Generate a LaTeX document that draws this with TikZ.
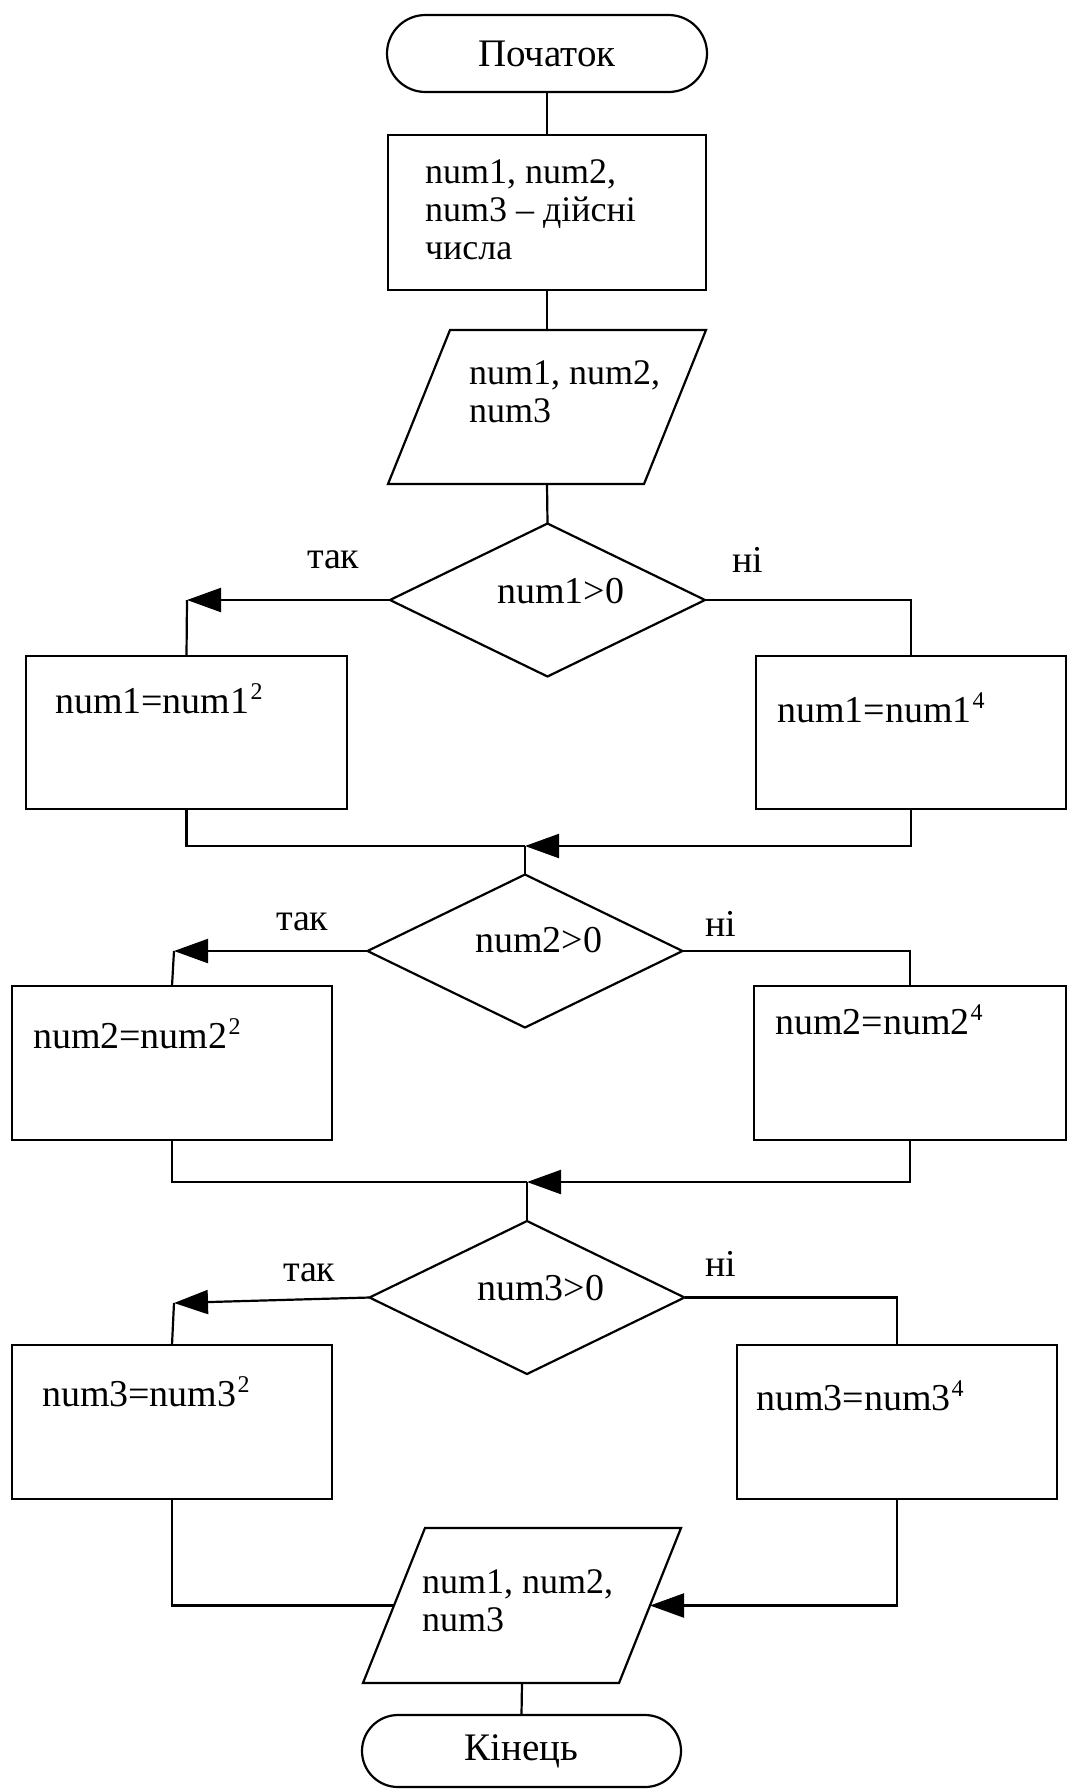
\documentclass[tikz,border=0pt]{standalone}
\usepackage{fontspec}
\setmainfont{Liberation Serif}
\usetikzlibrary{shapes.geometric,shapes.misc,arrows.meta}
\newcommand{\mysup}[1]{\kern1pt\raisebox{14pt}{\fontsize{24}{24}\selectfont #1}}
\begin{document}
\begin{tikzpicture}[x=1pt,y=-1pt,
  line width=2.2pt,
  every node/.style={inner sep=0pt, outer sep=0pt},
  box/.style={draw, rectangle},
  term/.style={draw, rounded rectangle, font=\fontsize{39}{44}\selectfont},
  dec/.style={draw, diamond, minimum width=315pt, minimum height=153pt},
  plain/.style={minimum width=256pt, minimum height=154pt},
  txt/.style={font=\fontsize{38}{40}\selectfont, anchor=base west},
  mtxt/.style={font=\fontsize{36}{38}\selectfont, align=left, anchor=north west},
  arr/.style={-{Triangle[length=34pt,width=24pt]}}
]
\useasboundingbox (0,0) rectangle (1068,1789);

% start
\node[term, minimum width=320pt, minimum height=77pt] (start) at (547,53.5) {Початок};

% declaration
\node[box, minimum width=318pt, minimum height=155pt] (r1) at (547,212.5) {};
\node[mtxt] (r1t) at (425,160) {num1, num2,\\num3 – дійсні\\числа};

% input
\node[plain] (p1) at (547,407) {};
\draw ([xshift=31pt]p1.north west) -- ([xshift=31pt]p1.north east) -- ([xshift=-31pt]p1.south east) -- ([xshift=-31pt]p1.south west) -- cycle;
\node[mtxt] (p1t) at (469,361) {num1, num2,\\num3};

\draw (start.south) -- (r1.north);
\draw (r1.south) -- (p1.north);

% decision 1
\node[dec] (d1) at (547.5,600) {};
\node[txt] (d1t) at (497,603) {num1>0};
\node[txt] (y1) at (307,568) {так};
\node[txt] (n1) at (732,572) {ні};
\draw (p1.south) -- (d1.north);

\node[box, minimum width=321pt, minimum height=153pt] (r1L) at (186.5,732.5) {};
\node[box, minimum width=310pt, minimum height=153pt] (r1R) at (911,732.5) {};
\node[txt] (r1Lt) at (55,713) {num1=num1\mysup{2}};
\node[txt] (r1Rt) at (777,722) {num1=num1\mysup{4}};

\coordinate (c1) at (187,600);
\draw[arr] (d1.west) -- (c1);
\draw (c1) -- (r1L.north);
\draw (d1.east) -| (r1R.north);

\coordinate (m1) at (525,846);
\draw (r1L.south) |- (m1);
\draw[arr] (r1R.south) |- (m1);

% decision 2
\node[dec] (d2) at (525,951) {};
\node[txt] (d2t) at (475,952) {num2>0};
\node[txt] (y2) at (276,930) {так};
\node[txt] (n2) at (705,936) {ні};
\draw (m1) -- (d2.north);

\node[box, minimum width=320pt, minimum height=154pt] (r2L) at (172,1063) {};
\node[box, minimum width=312pt, minimum height=154pt] (r2R) at (910,1063) {};
\node[txt] (r2Lt) at (33,1048) {num2=num2\mysup{2}};
\node[txt] (r2Rt) at (775,1034) {num2=num2\mysup{4}};

\coordinate (c2) at (174,951);
\draw[arr] (d2.west) -- (c2);
\draw (c2) -- (r2L.north);
\draw (d2.east) -| (r2R.north);

\coordinate (m2) at (527,1182);
\draw (r2L.south) |- (m2);
\draw[arr] (r2R.south) |- (m2);

% decision 3
\node[dec] (d3) at (527,1297.5) {};
\node[txt] (d3t) at (477,1300) {num3>0};
\node[txt] (y3) at (283,1281) {так};
\node[txt] (n3) at (705,1276) {ні};
\draw (m2) -- (d3.north);

\node[box, minimum width=320pt, minimum height=154pt] (r3L) at (172,1422) {};
\node[box, minimum width=320pt, minimum height=154pt] (r3R) at (897,1422) {};
\node[txt] (r3Lt) at (42,1406) {num3=num3\mysup{2}};
\node[txt] (r3Rt) at (756,1410) {num3=num3\mysup{4}};

\coordinate (c3) at (174,1303);
\draw[arr] (d3.west) -- (c3);
\draw (c3) -- (r3L.north);
\draw (d3.east) -| (r3R.north);

% output
\node[plain, minimum height=155pt] (p2) at (522,1605.5) {};
\draw ([xshift=31pt]p2.north west) -- ([xshift=31pt]p2.north east) -- ([xshift=-31pt]p2.south east) -- ([xshift=-31pt]p2.south west) -- cycle;
\node[mtxt] (p2t) at (422,1570) {num1, num2,\\num3};

\draw (r3L.south) |- (p2.west);
\draw[arr] (r3R.south) |- (p2.east);

% end
\node[term, minimum width=319pt, minimum height=72pt] (end) at (521.5,1751) {Кінець};
\draw (p2.south) -- (end.north);
\end{tikzpicture}
\end{document}
